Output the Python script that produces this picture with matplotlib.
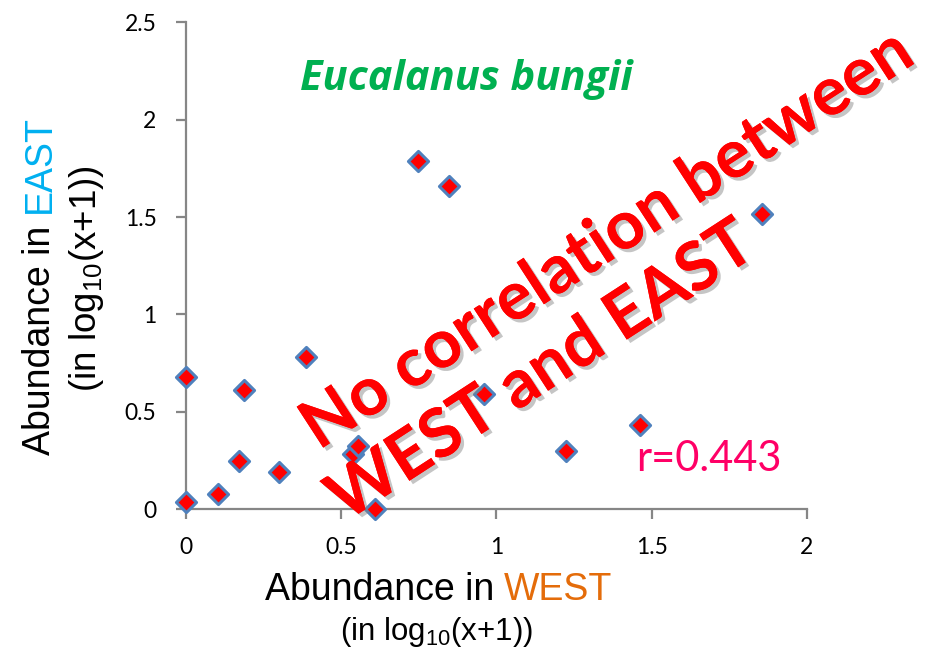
import matplotlib
matplotlib.use("Agg")
import matplotlib.pyplot as plt
import matplotlib.patheffects as pe

# Abundance (log10(x+1)) of Eucalanus bungii at paired stations
west = [0.0, 0.0, 0.103, 0.189, 0.173, 0.301, 0.386, 0.538, 0.556, 0.610,
        0.747, 0.849, 0.959, 1.224, 1.464, 1.854]
east = [0.677, 0.036, 0.075, 0.611, 0.247, 0.189, 0.779, 0.281, 0.324, 0.0,
        1.788, 1.661, 0.589, 0.298, 0.432, 1.517]

x_ticks = [0, 0.5, 1, 1.5, 2]
x_tick_labels = ["0", "0.5", "1", "1.5", "2"]
y_ticks = [0, 0.5, 1, 1.5, 2, 2.5]
y_tick_labels = ["0", "0.5", "1", "1.5", "2", "2.5"]

species = "Eucalanus bungii"
r_value = 0.443

plt.rcParams["mathtext.fontset"] = "custom"
plt.rcParams["mathtext.rm"] = "Liberation Sans"
plt.rcParams["mathtext.it"] = "Liberation Sans:italic"

fig = plt.figure(figsize=(9.41, 6.56), dpi=100)
W, H = 941, 656
ax = fig.add_axes([185.7 / W, 1 - 509 / H, 621.2 / W, 486.5 / H])

ax.scatter(west, east, marker="D", s=105, facecolor="#FF0000",
           edgecolor="#4F81BD", linewidth=2.2, zorder=3, clip_on=False)

ax.set_xlim(0, 2)
ax.set_ylim(0, 2.5)
ax.set_xticks(x_ticks)
ax.set_xticklabels(x_tick_labels)
ax.set_yticks(y_ticks)
ax.set_yticklabels(y_tick_labels)

gray = "#868686"
for side in ("top", "right"):
    ax.spines[side].set_visible(False)
for side in ("left", "bottom"):
    ax.spines[side].set_color(gray)
    ax.spines[side].set_linewidth(1.6)
ax.tick_params(axis="both", direction="out", length=7, width=1.6, color=gray,
               labelsize=16.5)
for lab in ax.get_xticklabels() + ax.get_yticklabels():
    lab.set_fontfamily("Lato")
ax.tick_params(axis="x", pad=13)
ax.tick_params(axis="y", pad=14)

# Species name
ax.text(300 / W, 1 - 79 / H, species, transform=fig.transFigure,
        fontfamily="Open Sans", fontweight="bold", fontstyle="italic",
        fontsize=30, color="#00B050", ha="left", va="center")

# Correlation coefficient
ax.text(636 / W, 1 - 459 / H, f"r={r_value:.3f}", transform=fig.transFigure,
        fontfamily="Lato", fontsize=30, color="#FF0066",
        ha="left", va="center")

# X-axis label (two lines, coloured region name)
label_font = dict(fontfamily="Liberation Sans", fontsize=27, color="black")
t1 = fig.text(265 / W, 1 - 600 / H, "Abundance in", ha="left",
              va="baseline", **label_font)
ax.annotate("WEST", xy=(1, 0), xycoords=t1, xytext=(7, 0),
            textcoords="offset points", ha="left", va="bottom",
            fontfamily="Liberation Sans", fontsize=27, color="#E46C0A")
fig.text(437 / W, 1 - 632 / H, r"(in log$_{10}$(x+1))", ha="center",
         va="center", fontfamily="Liberation Sans", fontsize=22.5,
         color="black")

# Y-axis label (two lines, coloured region name)
t2 = fig.text(40 / W, 1 - 455 / H, "Abundance in", rotation=90,
              ha="center", va="bottom", **label_font)
ax.annotate("EAST", xy=(0.5, 1), xycoords=t2, xytext=(0, 9),
            textcoords="offset points", ha="center", va="bottom",
            rotation=90, fontfamily="Liberation Sans", fontsize=27,
            color="#00B0F0")
fig.text(86 / W, 1 - 279 / H, r"(in log$_{10}$(x+1))", rotation=90,
         ha="center", va="center", fontfamily="Liberation Sans",
         fontsize=26.5, color="black")

# Overlaid statement
shadow = [pe.withSimplePatchShadow(offset=(2.5, -2.5), shadow_rgbFace="#808080",
                                   alpha=0.45), pe.Normal()]
stmt = dict(fontfamily="Lato", fontweight="bold", fontsize=48.5,
            color="#FF0000", rotation=33, rotation_mode="anchor",
            ha="center", va="center", transform=fig.transFigure,
            path_effects=shadow, zorder=5)
fig.text(608 / W, 1 - 240 / H, "No correlation between", **stmt)
fig.text(542 / W, 1 - 372 / H, "WEST and EAST", **stmt)

fig.savefig("out.png", dpi=100, facecolor="white")
